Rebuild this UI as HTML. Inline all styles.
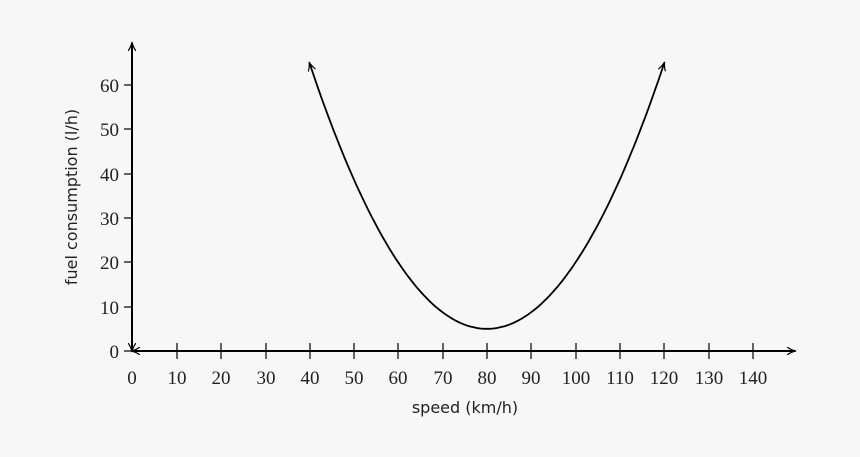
<!DOCTYPE html>
<html><head><style>body{margin:0;background:#f7f7f7}svg{display:block}</style></head>
<body>
<svg width="860" height="457" xmlns="http://www.w3.org/2000/svg">
<rect width="860" height="457" fill="#f7f7f7"/>
<defs>
<marker id="a" markerWidth="10" markerHeight="8" refX="8" refY="4" orient="auto-start-reverse" markerUnits="userSpaceOnUse">
<path d="M0,0 Q4,3 9,4 Q4,5 0,8" fill="none" stroke="#000" stroke-width="1.2"/></marker>
</defs>
<g stroke="#000" stroke-width="2" fill="none">
<line x1="132" y1="351" x2="795" y2="351" marker-start="url(#a)" marker-end="url(#a)"/>
<line x1="132" y1="351" x2="132" y2="43" marker-start="url(#a)" marker-end="url(#a)"/>
</g>
<g stroke="#000" stroke-width="1.2">
<line x1="177" y1="343" x2="177" y2="359"/><line x1="221" y1="343" x2="221" y2="359"/>
<line x1="266" y1="343" x2="266" y2="359"/><line x1="310" y1="343" x2="310" y2="359"/>
<line x1="354" y1="343" x2="354" y2="359"/><line x1="398" y1="343" x2="398" y2="359"/>
<line x1="443" y1="343" x2="443" y2="359"/><line x1="487" y1="343" x2="487" y2="359"/>
<line x1="531" y1="343" x2="531" y2="359"/><line x1="576" y1="343" x2="576" y2="359"/>
<line x1="620" y1="343" x2="620" y2="359"/><line x1="664" y1="343" x2="664" y2="359"/>
<line x1="709" y1="343" x2="709" y2="359"/><line x1="753" y1="343" x2="753" y2="359"/>
<line x1="124" y1="85" x2="132" y2="85"/><line x1="124" y1="129" x2="132" y2="129"/>
<line x1="124" y1="174" x2="132" y2="174"/><line x1="124" y1="218" x2="132" y2="218"/>
<line x1="124" y1="262" x2="132" y2="262"/><line x1="124" y1="307" x2="132" y2="307"/>
<line x1="124" y1="351" x2="132" y2="351"/>
</g>
<path id="c" fill="none" stroke="#000" stroke-width="1.8" marker-start="url(#a)" marker-end="url(#a)" d=""/>
<g font-family="Liberation Serif, serif" font-size="19" fill="#222" text-anchor="middle">
<text x="132" y="384">0</text><text x="177" y="384">10</text><text x="221" y="384">20</text>
<text x="266" y="384">30</text><text x="310" y="384">40</text><text x="354" y="384">50</text>
<text x="398" y="384">60</text><text x="443" y="384">70</text><text x="487" y="384">80</text>
<text x="531" y="384">90</text><text x="576" y="384">100</text><text x="620" y="384">110</text>
<text x="664" y="384">120</text><text x="709" y="384">130</text><text x="753" y="384">140</text>
</g>
<g font-family="Liberation Serif, serif" font-size="19" fill="#222" text-anchor="end">
<text x="119" y="92">60</text><text x="119" y="136">50</text><text x="119" y="181">40</text>
<text x="119" y="225">30</text><text x="119" y="269">20</text><text x="119" y="314">10</text>
<text x="119" y="358">0</text>
</g>
<g font-family="DejaVu Sans, sans-serif" font-size="16" fill="#222" text-anchor="middle">
<text x="465" y="413">speed (km/h)</text>
<text transform="translate(77,197) rotate(-90)">fuel consumption (l/h)</text>
</g>
<script>
var d="";for(var i=0;i<=160;i++){var x=40+i*0.5,y=5+0.0375*(x-80)*(x-80);var px=132+x*4.436,py=351-y*4.433;d+=(i?"L":"M")+px.toFixed(1)+","+py.toFixed(1);}
document.getElementById("c").setAttribute("d",d);
</script>
</svg>
</body></html>
